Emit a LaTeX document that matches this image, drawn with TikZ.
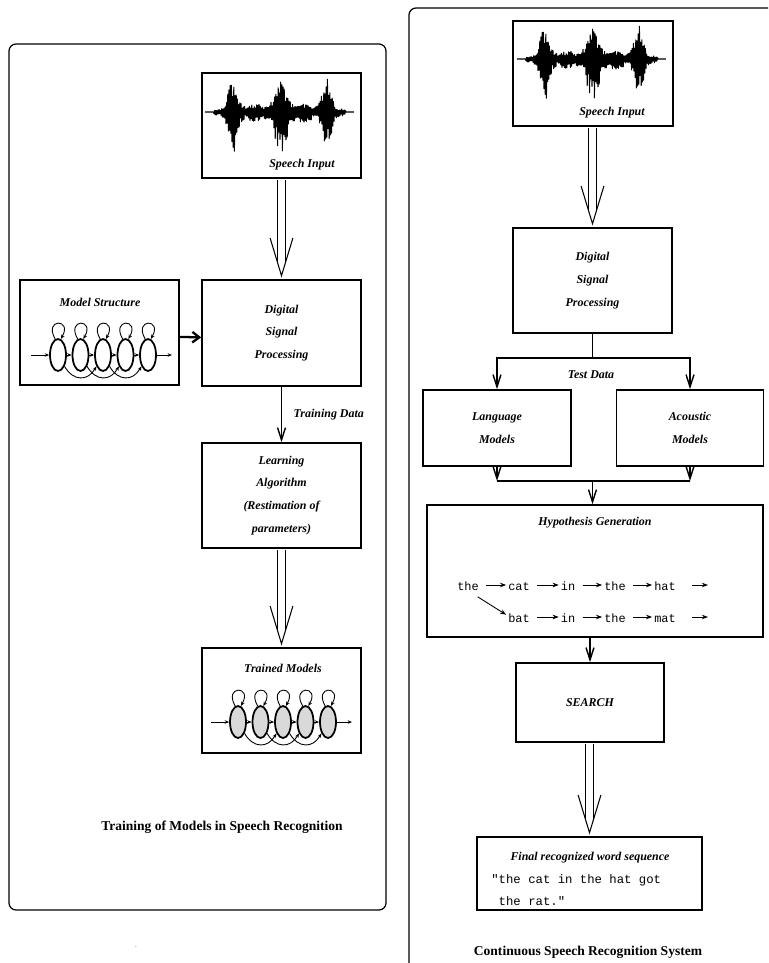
\documentclass[tikz,border=0pt]{standalone}
\usepackage{fontspec}
\setmainfont{Liberation Serif}
\setmonofont{Liberation Mono}
\usetikzlibrary{arrows.meta,shapes.geometric,positioning}

\newcommand{\boxfont}{\fontsize{6.8}{13}\selectfont\bfseries\itshape}
\newcommand{\titlefont}{\fontsize{7.7}{9}\selectfont\bfseries}
\newcommand{\wordfont}{\fontsize{6.8}{8}\selectfont\ttfamily}
\newcommand{\finalfont}{\fontsize{7}{8}\selectfont\ttfamily}

\tikzset{
  panel/.style={draw, line width=0.7pt, rounded corners=4pt},
  block/.style={draw, line width=0.9pt, inner sep=0pt, align=center, font=\boxfont},
  boxtext/.style={font=\boxfont, inner sep=1pt},
  titletext/.style={font=\titlefont, inner sep=1pt},
  arr/.style={line width=0.8pt, -{Straight Barb[length=7pt,width=4.5pt]}},
  thickarr/.style={line width=1.3pt, -{Straight Barb[length=4pt,width=6pt]}},
  hollow/.style={double, double distance=3.9pt, line width=0.6pt},
  hollowhead/.style={line width=0.6pt},
  wave/.style={line width=0.6pt, line join=round},
  hmmstate/.style={ellipse, draw, line width=1pt, minimum width=3.2mm, minimum height=6.4mm, inner sep=0pt},
  hmmarr/.style={line width=0.5pt, -{Stealth[length=2.5pt,width=2pt]}},
  word/.style={font=\wordfont, inner sep=1pt, text height=1.5ex, text depth=0.2ex},
  wordarr/.style={line width=0.5pt, -{Stealth[length=3.5pt,width=2.6pt]}, shorten <=3pt}
}

% speech signal: left end x, baseline y
\newcommand{\speechwave}[2]{%
  \pgfmathsetseed{11}
  \draw[wave] (#1,#2) \foreach \u [evaluate=\u as \v using 0.6*\u,
      evaluate=\u as \s using 1-2*(\u-2*floor(\u/2))] in {1,...,248}{
    -- ({#1+\v}, {#2 + (\s)*(1-0.12*(\s))*(0.4+0.6*rnd)*(3.5*(\v>9)*(\v<141)
         + 38*exp(-min(((\v-28)/6)^2,9)) + 6*exp(-min(((\v-50)/10)^2,9))
         + 36*exp(-min(((\v-76)/8)^2,9)) + 7*exp(-min(((\v-98)/10)^2,9))
         + 34*exp(-min(((\v-122)/6)^2,9)))})
  };
}

% left-to-right model: prefix, x of first state, y, fill
\newcommand{\hmmchain}[4]{%
  \foreach \i in {1,...,5}
    \node[hmmstate, fill=#4] (#1\i) at ({#2+22.5*(\i-1)}, #3) {};
  \coordinate (#1in) at ({#2-27}, #3);
  \coordinate (#1out) at ({#2+4*22.5+24}, #3);
  \draw[hmmarr] (#1in) -- (#11);
  \draw[hmmarr] (#15) -- (#1out);
  \foreach \i in {1,...,4}{
    \pgfmathtruncatemacro{\j}{\i+1}
    \draw[hmmarr] (#1\i) -- (#1\j);
  }
  \foreach \i in {1,...,3}{
    \pgfmathtruncatemacro{\k}{\i+2}
    \draw[hmmarr] (#1\i.-60) to[out=-60,in=-120,looseness=1.4] (#1\k.-120);
  }
  \foreach \i in {1,...,5}
    \draw[hmmarr] (#1\i.100) .. controls +(120:24) and +(60:24) .. (#1\i.80);
}

% hollow double arrow from one box to the box below
\newcommand{\hollowarrow}[2]{%
  \draw[hollow] ([yshift=-0.45pt]#1.south -| #2.north) -- ([yshift=9.5pt]#2.north);
  \draw[hollowhead] ([xshift=-6.5pt,yshift=23.5pt]#2.north) -- ([yshift=2pt]#2.north)
    -- ([xshift=6.5pt,yshift=23.5pt]#2.north);
}

\begin{document}
\begin{tikzpicture}[x=0.02cm, y=0.02cm]
  \useasboundingbox (0,0) rectangle (768,-963);
  \clip (0,0) rectangle (768,-963);

  % frames
  \draw[panel] (9,-44) rectangle (386,-910);
  \draw[panel] (409,-8) rectangle (830,-1010);

  % ---- training of models ----
  \node[block, minimum width=31.8mm, minimum height=21mm] (speechL) at (281.5,-125.5) {};
  \speechwave{205}{-112}
  \node[boxtext] (speechLtxt) at (302,-165) {Speech Input};

  \node[block, minimum width=31.8mm, minimum height=21.2mm] (dspL) at (281.5,-333) {Digital\\Signal\\Processing};

  \node[block, minimum width=31.8mm, minimum height=21mm] (modelL) at (99.5,-332.5) {};
  \node[boxtext] (modelLtxt) at (100,-302) {Model Structure};
  \hmmchain{ms}{58}{-355}{white}

  \node[block, minimum width=31.8mm, minimum height=21mm] (learnL) at (281.5,-495.5) {Learning\\Algorithm\\(Restimation of\\parameters)};

  \node[block, minimum width=31.8mm, minimum height=21mm] (trainL) at (281.5,-700.5) {};
  \node[boxtext] (trainLtxt) at (283,-668) {Trained Models};
  \hmmchain{tm}{238}{-722}{gray!30}

  \hollowarrow{speechL}{dspL}
  \draw[arr] (dspL) -- (learnL) node[midway, right=5.5pt, boxtext] (trdata) {Training Data};
  \hollowarrow{learnL}{trainL}
  \draw[thickarr] ([yshift=-2.5pt]modelL.east) -- ([yshift=-2.5pt]dspL.west);

  \node[titletext] (trainttl) at (222,-827) {Training of Models in Speech Recognition};
  \node[font=\tiny, text=gray] (stray) at (136,-947) {.};

  % ---- recognition system ----
  \node[block, minimum width=32mm, minimum height=21mm] (speechR) at (593,-73.5) {};
  \speechwave{517}{-59}
  \node[boxtext] (speechRtxt) at (612,-113) {Speech Input};

  \node[block, minimum width=31.8mm, minimum height=21mm] (dspR) at (592.5,-280.5) {Digital\\Signal\\Processing};
  \hollowarrow{speechR}{dspR}

  \node[block, minimum width=29.6mm, minimum height=15.2mm] (langR) at (497,-428) {Language\\Models};
  \node[block, minimum width=29.4mm, minimum height=15.2mm] (acouR) at (690,-428) {Acoustic\\Models};
  \coordinate (split) at (592.5,-358);
  \draw[line width=0.8pt] (dspR) -- (split);
  \draw[arr] (split) -| (langR);
  \draw[arr] (split) -| (acouR);
  \node[boxtext] (testdata) at (591,-375) {Test Data};

  \coordinate (merge) at (592.5,-481);
  \draw[arr] (langR) -- (langR |- merge);
  \draw[arr] (acouR) -- (acouR |- merge);
  \draw[line width=0.8pt] (langR |- merge) -- (acouR |- merge);

  \node[block, minimum width=67.2mm, minimum height=26.4mm] (hypR) at (595,-571) {};
  \draw[arr] (merge) -- (merge |- hypR.north);
  \node[boxtext] (hyptxt) at (595,-523) {Hypothesis Generation};

  \node[word] (h1) at (468,-585) {the};
  \node[word] (h2) at (519,-585) {cat};
  \node[word] (h3) at (568,-585) {in};
  \node[word] (h4) at (615,-585) {the};
  \node[word] (h5) at (665,-585) {hat};
  \coordinate (hend) at (708,-585);
  \node[word] (b2) at (519,-617) {bat};
  \node[word] (b3) at (568,-617) {in};
  \node[word] (b4) at (615,-617) {the};
  \node[word] (b5) at (665,-617) {mat};
  \coordinate (bend) at (708,-617);
  \draw[wordarr] (h1.east) -- (h2.west);
  \draw[wordarr] (h2.east) -- (h3.west);
  \draw[wordarr] (h3.east) -- (h4.west);
  \draw[wordarr] (h4.east) -- (h5.west);
  \draw[wordarr] ([xshift=5pt]h5.east) -- (hend);
  \draw[wordarr] (h1.-60) -- (b2.170);
  \draw[wordarr] (b2.east) -- (b3.west);
  \draw[wordarr] (b3.east) -- (b4.west);
  \draw[wordarr] (b4.east) -- (b5.west);
  \draw[wordarr] ([xshift=5pt]b5.east) -- (bend);

  \node[block, minimum width=29.6mm, minimum height=15.8mm] (searchR) at (590,-702.5) {SEARCH};
  \draw[arr] (searchR.north |- hypR.south) -- (searchR);

  \node[block, minimum width=45mm, minimum height=14.6mm] (finalR) at (589.5,-873.5) {};
  \hollowarrow{searchR}{finalR}
  \node[boxtext] (finaltxt) at (590,-858) {Final recognized word sequence};
  \node[font=\finalfont, inner sep=0pt, anchor=base west] (fin1) at (491,-883.5) {"the cat in the hat got};
  \node[font=\finalfont, inner sep=0pt, anchor=base west] (fin2) at (491,-905.5) {\hphantom{"}the rat."};

  \node[titletext] (recogttl) at (588,-952) {Continuous Speech Recognition System};
\end{tikzpicture}
\end{document}
